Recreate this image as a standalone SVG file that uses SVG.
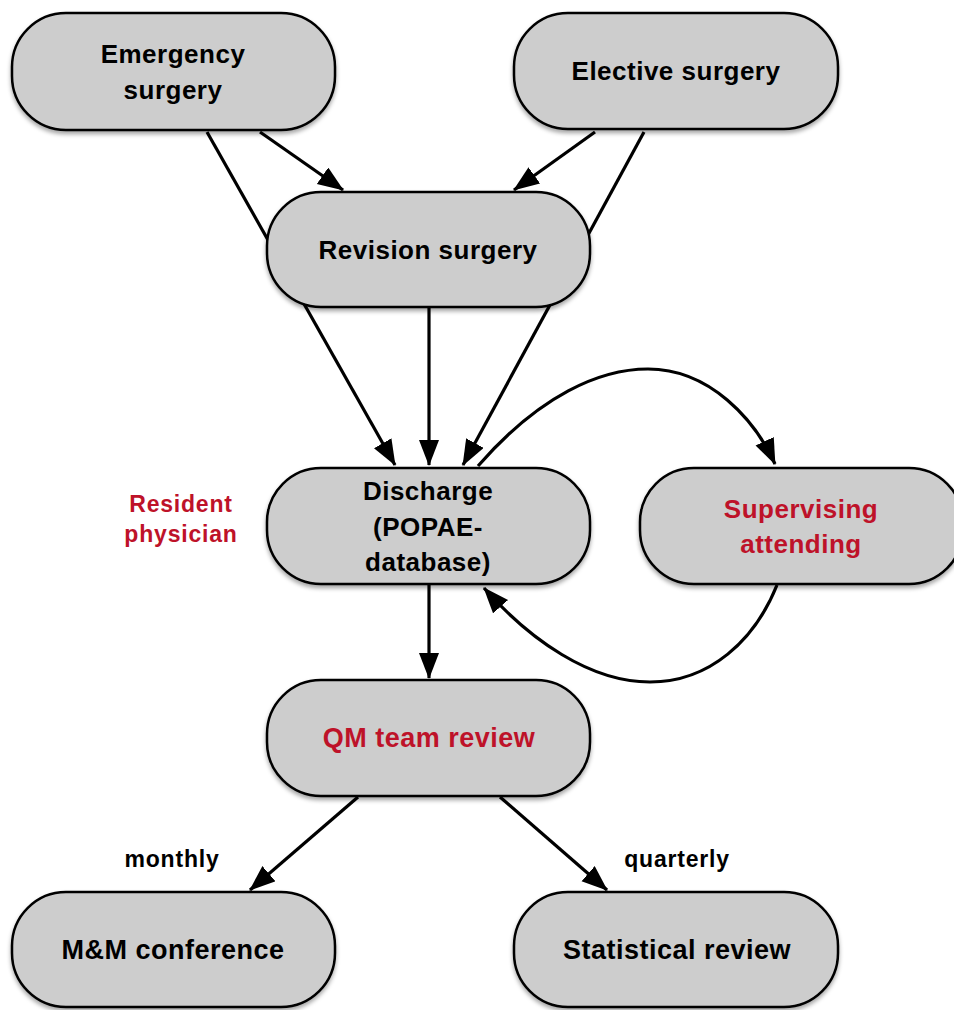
<svg xmlns="http://www.w3.org/2000/svg" width="954" height="1010" viewBox="0 0 954 1010">
<defs>
<filter id="sh" x="-10%" y="-10%" width="120%" height="130%">
<feDropShadow dx="0" dy="3" stdDeviation="2" flood-color="#000" flood-opacity="0.35"/>
</filter>
<marker id="ah" markerUnits="userSpaceOnUse" markerWidth="28" markerHeight="22" refX="25" refY="10" orient="auto">
<path d="M0,0 L26,10 L0,20 z" fill="#000"/>
</marker>
</defs>
<style>
.node{fill:#cdcdcd;stroke:#000;stroke-width:2.5;filter:url(#sh)}
.t{font-family:"Liberation Sans",Arial,Helvetica,sans-serif;font-weight:bold;font-size:26px;letter-spacing:0.5px;fill:#000;text-anchor:middle}
.b{font-size:27px}
.lbl{font-family:"Liberation Sans",Arial,Helvetica,sans-serif;font-weight:bold;font-size:23px;letter-spacing:0.8px;text-anchor:middle;fill:#000}
text.red{fill:#be1229}
.c{fill:none;stroke:#000;stroke-width:3.2}
</style>
<g id="connectors">
<line class="c" x1="260" y1="132" x2="343" y2="190" marker-end="url(#ah)"/>
<line class="c" x1="595" y1="132" x2="514" y2="190" marker-end="url(#ah)"/>
<line class="c" x1="207" y1="132" x2="395" y2="465" marker-end="url(#ah)"/>
<line class="c" x1="429" y1="307" x2="429" y2="465" marker-end="url(#ah)"/>
<line class="c" x1="644" y1="132" x2="463" y2="465" marker-end="url(#ah)"/>
<path class="c" d="M478,466 C540,395 600,369 648,369 C710,369 755,420 775,464" marker-end="url(#ah)"/>
<path class="c" d="M777,585 C755,640 710,682 650,682 C590,682 530,640 484,588" marker-end="url(#ah)"/>
<line class="c" x1="429" y1="584" x2="429" y2="678" marker-end="url(#ah)"/>
<line class="c" x1="358" y1="797" x2="250" y2="890" marker-end="url(#ah)"/>
<line class="c" x1="500" y1="797" x2="607" y2="890" marker-end="url(#ah)"/>
</g>
<g id="emergency">
<rect class="node" x="12" y="13" width="323" height="117" rx="54" ry="54"/>
<text class="t" x="173" y="63">Emergency</text>
<text class="t" x="173" y="99">surgery</text>
</g>
<g id="elective">
<rect class="node" x="514" y="13" width="324" height="116" rx="54" ry="54"/>
<text class="t" x="676" y="80">Elective surgery</text>
</g>
<g id="revision">
<rect class="node" x="267" y="192" width="323" height="115" rx="54" ry="54"/>
<text class="t" x="428" y="259">Revision surgery</text>
</g>
<g id="discharge">
<rect class="node" x="267" y="468" width="323" height="116" rx="54" ry="54"/>
<text class="t" x="428" y="500">Discharge</text>
<text class="t" x="428" y="536">(POPAE-</text>
<text class="t" x="428" y="571">database)</text>
</g>
<g id="resident">
<text class="lbl red" x="181" y="512">Resident</text>
<text class="lbl red" x="181" y="542">physician</text>
</g>
<g id="supervising">
<rect class="node" x="640" y="468" width="323" height="116" rx="54" ry="54"/>
<text class="t red" x="801" y="518">Supervising</text>
<text class="t red" x="801" y="553">attending</text>
</g>
<g id="qm">
<rect class="node" x="267" y="680" width="323" height="116" rx="54" ry="54"/>
<text class="t b red" x="429" y="747">QM team review</text>
</g>
<g id="mm">
<rect class="node" x="12" y="892" width="323" height="115" rx="54" ry="54"/>
<text class="t b" x="173" y="959">M&amp;M conference</text>
</g>
<g id="statistical">
<rect class="node" x="514" y="892" width="324" height="115" rx="54" ry="54"/>
<text class="t b" x="677" y="959">Statistical review</text>
</g>
<g id="edge-labels">
<text class="lbl" x="172" y="867">monthly</text>
<text class="lbl" x="677" y="867">quarterly</text>
</g>
</svg>
